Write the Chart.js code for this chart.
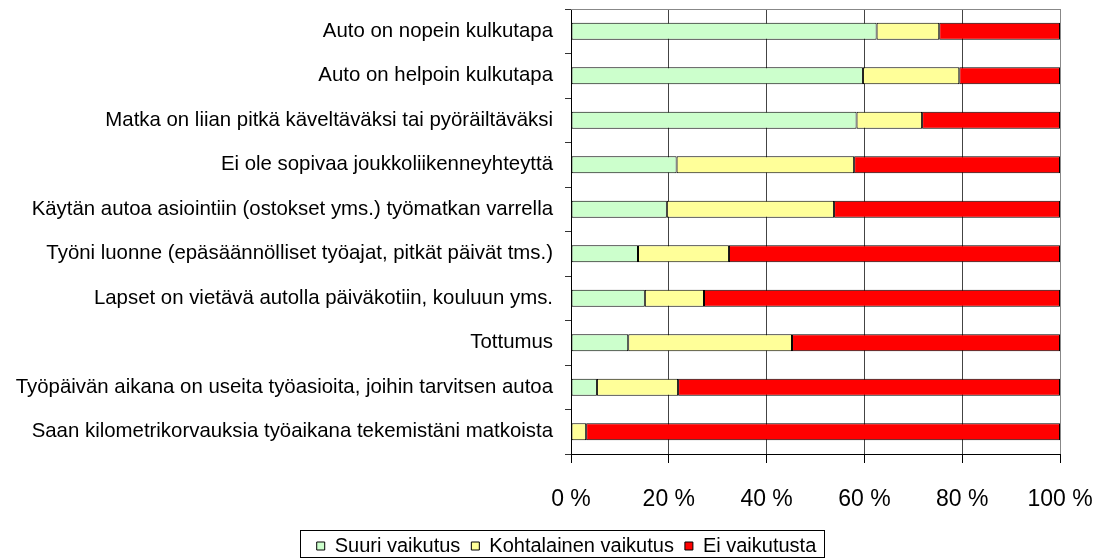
<!DOCTYPE html>
<html>
<head>
<meta charset="utf-8">
<script src="https://cdn.jsdelivr.net/npm/chart.js@4/dist/chart.umd.min.js"></script>
<style>
  html, body { margin: 0; padding: 0; background: #ffffff; }
  #wrap { width: 1099px; height: 559px; position: relative; }
</style>
</head>
<body>
<div id="wrap"><canvas id="c" width="1099" height="559"></canvas></div>
<script>
const categories = [
  "Auto on nopein kulkutapa",
  "Auto on helpoin kulkutapa",
  "Matka on liian pitkä käveltäväksi tai pyöräiltäväksi",
  "Ei ole sopivaa joukkoliikenneyhteyttä",
  "Käytän autoa asiointiin (ostokset yms.) työmatkan varrella",
  "Työni luonne (epäsäännölliset työajat, pitkät päivät tms.)",
  "Lapset on vietävä autolla päiväkotiin, kouluun yms.",
  "Tottumus",
  "Työpäivän aikana on useita työasioita, joihin tarvitsen autoa",
  "Saan kilometrikorvauksia työaikana tekemistäni matkoista"
];
const seriesNames = ["Suuri vaikutus", "Kohtalainen vaikutus", "Ei vaikutusta"];
const suuri       = [62.5, 59.7, 58.4, 21.6, 19.6, 13.7, 15.1, 11.7, 5.3, 0.0];
const kohtalainen = [12.8, 19.7, 13.4, 36.3, 34.2, 18.6, 12.1, 33.5, 16.6, 3.1];
const eiVaikutusta= [24.7, 20.6, 28.2, 42.1, 46.2, 67.7, 72.8, 54.8, 78.1, 96.9];
const xTicks = [0, 20, 40, 60, 80, 100];

const colors = ["#CCFFCC", "#FFFF99", "#FF0000"];
const values = [suuri, kohtalainen, eiVaikutusta];

const frame = {
  id: 'frame',
  afterLayout(chart) {
    const lg = chart.legend;
    if (lg) { lg.left += 17; lg.right += 17; }
  },
  afterDraw(chart) {
    const ctx = chart.ctx;
    const a = chart.chartArea;
    ctx.save();
    ctx.strokeStyle = '#888888';
    ctx.lineWidth = 1;
    ctx.beginPath();
    ctx.moveTo(a.left, Math.round(a.top) + 0.5);
    ctx.lineTo(a.right, Math.round(a.top) + 0.5);
    ctx.stroke();
    // legend border
    const lg = chart.legend;
    if (lg && lg.legendHitBoxes && lg.legendHitBoxes.length) {
      const hb = lg.legendHitBoxes;
      let l = Infinity, r = -Infinity, cy = 0;
      hb.forEach(h => { l = Math.min(l, h.left); r = Math.max(r, h.left + h.width); cy = h.top + h.height / 2; });
      ctx.strokeStyle = '#000000';
      const x0 = Math.round(l - 17) + 0.5, x1 = Math.round(r + 8) + 0.5;
      const y0 = Math.round(cy - 16) + 0.5, y1 = Math.min(557.5, Math.round(cy + 14) + 0.5);
      ctx.strokeRect(x0, y0, x1 - x0, y1 - y0);
    }
    ctx.restore();
  }
};

new Chart(document.getElementById('c'), {
  type: 'bar',
  data: {
    labels: categories,
    datasets: seriesNames.map((n, i) => ({
      label: n,
      data: values[i],
      backgroundColor: colors[i],
      borderColor: '#000000',
      borderWidth: 1,
      borderSkipped: false,
      barPercentage: 0.385,
      categoryPercentage: 1.0
    }))
  },
  options: {
    indexAxis: 'y',
    responsive: false,
    animation: false,
    devicePixelRatio: 1,
    layout: { padding: { left: 0, right: 0, top: 9, bottom: -7 } },
    plugins: {
      tooltip: { enabled: false },
      legend: {
        position: 'bottom',
        labels: {
          color: '#000000',
          font: { family: 'Liberation Sans, Arial, sans-serif', size: 20 },
          boxWidth: 8,
          boxHeight: 8,
          padding: 11
        }
      }
    },
    scales: {
      x: {
        stacked: true,
        min: 0,
        max: 100,
        afterBuildTicks(scale) { scale.ticks = xTicks.map(v => ({ value: v })); },
        afterFit(scale) { scale.height = 71; scale.paddingLeft = 0; scale.paddingRight = 39; },
        ticks: {
          color: '#000000',
          font: { family: 'Liberation Sans, Arial, sans-serif', size: 23 },
          padding: 23,
          maxRotation: 0,
          callback: (v) => v + ' %'
        },
        grid: {
          color: (c) => (c.tick && c.tick.value === 100) ? '#888888' : '#444444',
          tickColor: '#000000',
          tickLength: 9,
          lineWidth: 1
        },
        border: { color: '#000000', width: 1 }
      },
      y: {
        stacked: true,
        offset: true,
        afterFit(scale) { scale.width = 571; scale.paddingTop = 0; scale.paddingBottom = 0; },
        ticks: {
          color: '#000000',
          font: { family: 'Liberation Sans, Arial, sans-serif', size: 20.4 },
          padding: 12,
          autoSkip: false
        },
        grid: {
          offset: true,
          drawOnChartArea: false,
          tickLength: 6,
          tickColor: '#333333'
        },
        border: { color: '#000000', width: 1 }
      }
    }
  },
  plugins: [frame]
});
</script>
</body>
</html>
